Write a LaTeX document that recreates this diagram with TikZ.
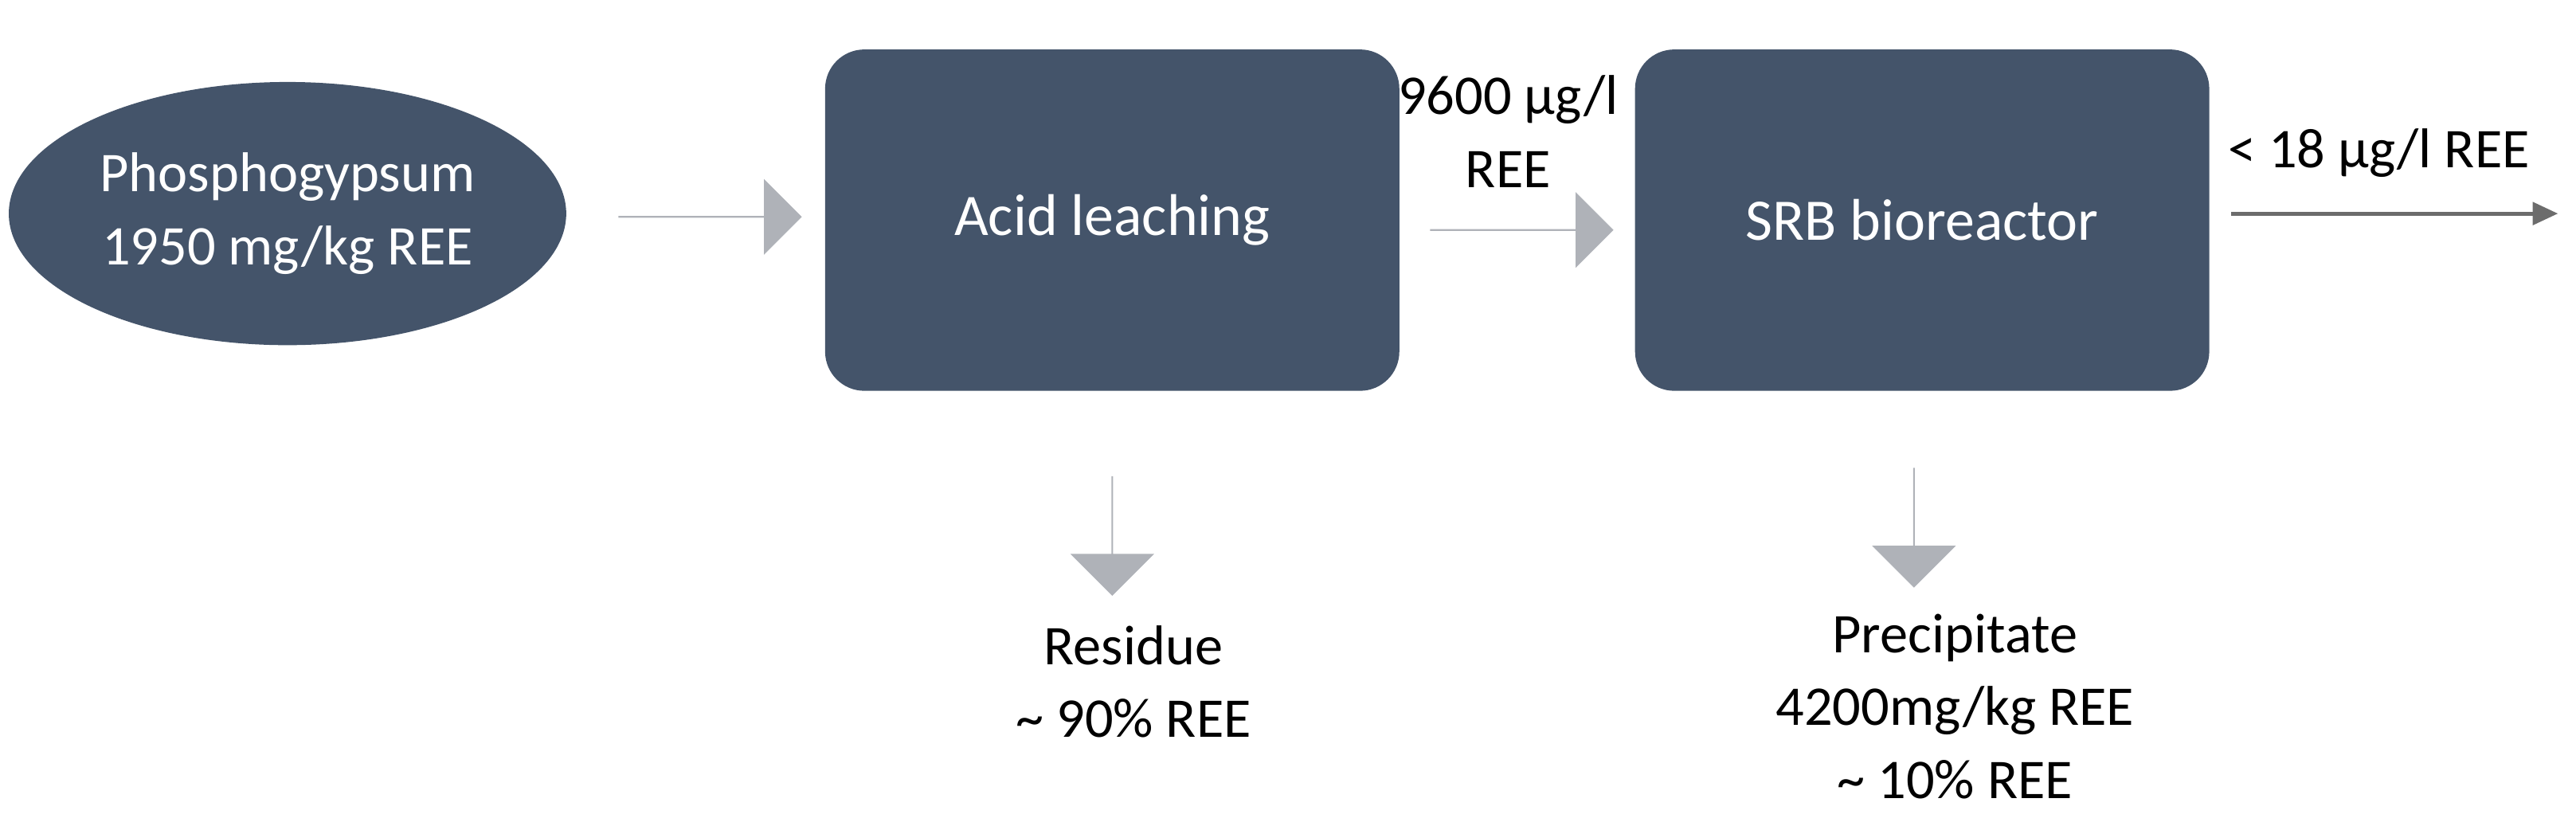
\documentclass[tikz,border=0pt]{standalone}
\usepackage{fontspec}
\setmainfont{Carlito}
\usetikzlibrary{arrows.meta,shapes.geometric,shapes.arrows}
\definecolor{slate}{HTML}{44546A}
\definecolor{arrowgray}{HTML}{AFB2B8}
\tikzset{
  stage/.style={draw=none, fill=slate, rounded corners=14pt, minimum width=7.2cm, minimum height=4.28cm, text=white, font=\fontsize{21}{27}\selectfont},
  flow/.style={draw=none, fill=arrowgray, single arrow, single arrow head extend=0.3cm, minimum height=2.3cm, minimum width=0.95cm, inner sep=0pt},
  drop/.style={draw=none, fill=arrowgray, single arrow, shape border rotate=270, single arrow head extend=0.36cm, minimum height=1.5cm, minimum width=1.05cm, inner sep=0pt},
  lbl/.style={align=center, font=\fontsize{20}{26}\selectfont}
}
\begin{document}
\begin{tikzpicture}[x=0.0206cm, y=-0.0206cm]
\useasboundingbox (0,0) rectangle (1568,500);
% source and process steps
\node (pg) at (175,130) [ellipse, fill=slate, minimum width=5.15cm, minimum height=3.3cm, text=white, lbl] {Phosphogypsum\\1950 mg/kg REE};
\node (leach) at (677,134) [stage] {Acid leaching};
\node (srb) at (1170,134) [stage] {SRB bioreactor};
% flows between steps
\node (f1) at (432,132) [flow] {};
\node (f2) at (926,140) [flow] {};
\node (l2) at (918,80) [lbl] {9600 µg/l\\REE};
\coordinate (srbout) at (1358,130);
\coordinate (out) at (1557,130);
\draw[line width=1.4pt, draw=gray!85!black, -{Triangle[length=9pt,width=8pt]}] (srbout) -- (out);
\node (l3) at (1448,93) [lbl] {< 18 µg/l REE};
% outputs
\node (d1) at (677,326) [drop] {};
\node (res) at (690,415) [lbl] {Residue\\\textasciitilde{} 90\% REE};
\node (d2) at (1165,321) [drop] {};
\node (pre) at (1190,430) [lbl] {Precipitate\\4200mg/kg REE\\\textasciitilde{} 10\% REE};
\end{tikzpicture}
\end{document}
